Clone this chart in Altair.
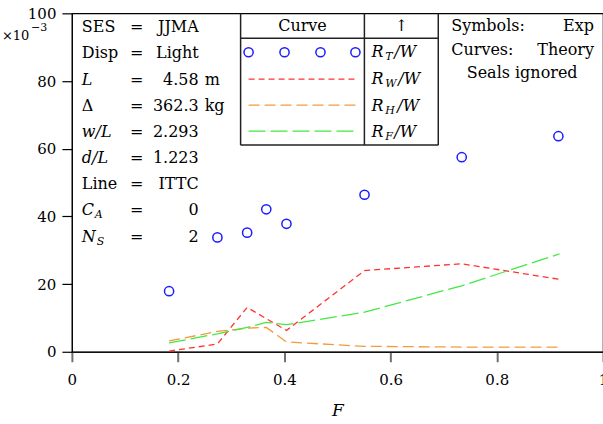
import altair as alt
import pandas as pd

# ---- data (y in units of 1e-3) ----
F_exp = [0.183, 0.274, 0.330, 0.366, 0.404, 0.551, 0.734, 0.916]
RT_W = [17.9, 33.8, 35.2, 42.1, 37.8, 46.4, 57.5, 63.7]

F_w = [0.183, 0.274, 0.330, 0.404, 0.551, 0.734, 0.918]
RW_W = [0.2, 2.3, 13.1, 6.3, 24.0, 26.0, 21.4]

F_th = [0.183, 0.274, 0.330, 0.366, 0.404, 0.551, 0.734, 0.918]
RH_W = [3.2, 6.0, 7.0, 7.2, 2.9, 1.6, 1.4, 1.4]
RF_W = [2.6, 5.3, 7.2, 8.7, 8.0, 11.7, 19.5, 28.9]

x_ticks = [0, 0.2, 0.4, 0.6, 0.8, 1.0]
y_ticks = [0, 20, 40, 60, 80, 100]

BLUE = "#1c1cff"
RED = "#ff3333"
ORANGE = "#f39a3e"
GREEN = "#44e844"
FONT = "DejaVu Serif"

xs = alt.Scale(domain=[0, 1], nice=False, zero=False)
ys = alt.Scale(domain=[0, 100], nice=False, zero=False)

xaxis = alt.Axis(values=x_ticks, title="F", grid=False, tickSize=10, tickWidth=2,
                 tickColor="#707070", domainColor="black", labelPadding=11,
                 labelFlush=False, labelOverlap=False,
                 labelFont=FONT, labelFontSize=15, labelColor="black",
                 titleFont=FONT, titleFontStyle="italic", titleFontWeight="normal",
                 titleFontSize=17, titlePadding=15, titleColor="black",
                 labelExpr="datum.value == 0 ? '0' : datum.value == 1 ? '1' : format(datum.value, '.1f')")
yaxis = alt.Axis(values=y_ticks, title=None, grid=False, tickSize=10, tickWidth=1.2,
                 tickColor="black", domainColor="black", labelPadding=6,
                 labelFlush=False, labelOverlap=False,
                 labelFont=FONT, labelFontSize=15, labelColor="black")

exp_df = pd.DataFrame({"F": F_exp, "R": RT_W})
w_df = pd.DataFrame({"F": F_w, "R": RW_W})
h_df = pd.DataFrame({"F": F_th, "R": RH_W})
f_df = pd.DataFrame({"F": F_th, "R": RF_W})

points = alt.Chart(exp_df).mark_point(shape="circle", filled=False, size=85,
                                      strokeWidth=1.5, color=BLUE, opacity=1).encode(
    x=alt.X("F:Q", scale=xs, axis=xaxis),
    y=alt.Y("R:Q", scale=ys, axis=yaxis),
)

def curve(df, color, dash):
    return alt.Chart(df).mark_line(color=color, strokeDash=dash, strokeWidth=1.3).encode(
        x=alt.X("F:Q", scale=xs, axis=xaxis),
        y=alt.Y("R:Q", scale=ys, axis=yaxis),
    )

lw = curve(w_df, RED, [6, 4])
lh = curve(h_df, ORANGE, [11, 5])
lf = curve(f_df, GREEN, [17, 5])

# ---- annotation helpers (pixel positions relative to plot area) ----
OX, OY = 72, 13  # plot origin in page pixels

def px(v):
    return v - OX

def py(v):
    return v - OY

def text_layer(rows, align="left", style="normal", size=16, color="black"):
    df = pd.DataFrame(rows, columns=["x", "y", "t"])
    df["x"] = df["x"].map(px)
    df["y"] = df["y"].map(py)
    return alt.Chart(df).mark_text(align=align, baseline="middle", font=FONT,
                                   fontSize=size, fontStyle=style, color=color).encode(
        x=alt.X("x:Q", scale=None, axis=None),
        y=alt.Y("y:Q", scale=None, axis=None),
        text="t:N",
    )

rows_y = [27, 53, 80, 106, 132, 158, 184, 210, 237]
LX, EQX, VX, UX = 82, 137, 199, 205

upright_labels = text_layer([
    (LX, rows_y[0], "SES"), (LX, rows_y[1], "Disp"), (LX, rows_y[3], "Δ"),
    (LX, rows_y[6], "Line"), (UX, rows_y[2], "m"), (UX, rows_y[3], "kg"),
    (452, 26, "Symbols:"), (452, 50, "Curves:"),
])
italic_labels = text_layer([
    (LX, rows_y[2], "L"), (LX, rows_y[4], "w/L"), (LX, rows_y[5], "d/L"),
    (LX, rows_y[7], "C"), (LX, rows_y[8], "N"),
    (372, 52, "R"), (395, 52, "/W"),
    (372, 79, "R"), (399, 79, "/W"),
    (372, 106, "R"), (398, 106, "/W"),
    (372, 132, "R"), (395, 132, "/W"),
], style="italic")
subs = text_layer([
    (95, rows_y[7] + 5, "A"), (97, rows_y[8] + 5, "S"),
    (386, 57, "T"), (386, 84, "W"), (386, 111, "H"), (386, 137, "F"),
], style="italic", size=11)
centered = text_layer(
    [(EQX, y, "=") for y in rows_y] + [(303, 26, "Curve"), (402, 26, "↑"), (523, 73, "Seals ignored")],
    align="center")
values = text_layer([
    (VX, rows_y[0], "JJMA"), (VX, rows_y[1], "Light"), (VX, rows_y[2], "4.58"),
    (VX, rows_y[3], "362.3"), (VX, rows_y[4], "2.293"), (VX, rows_y[5], "1.223"),
    (VX, rows_y[6], "ITTC"), (VX, rows_y[7], "0"), (VX, rows_y[8], "2"),
    (595, 26, "Exp"), (595, 50, "Theory"),
], align="right")
mult = text_layer([(2, 36, "×10")], size=13)
mult_sup = text_layer([(31, 28, "−3")], size=11)

# legend box
seg = pd.DataFrame({
    "x": [241, 439, 241, 241, 365],
    "y": [13, 13, 145, 38, 13],
    "x2": [241, 439, 439, 439, 365],
    "y2": [145, 145, 145, 38, 145],
})
seg["x"] = seg["x"].map(px); seg["x2"] = seg["x2"].map(px)
seg["y"] = seg["y"].map(py); seg["y2"] = seg["y2"].map(py)
box = alt.Chart(seg).mark_rule(color="#222222", strokeWidth=1.5).encode(
    x=alt.X("x:Q", scale=None, axis=None), x2="x2:Q",
    y=alt.Y("y:Q", scale=None, axis=None), y2="y2:Q",
)

leg_pts = pd.DataFrame({"x": [px(v) for v in [249, 285, 321, 356]], "y": [py(52)] * 4})
leg_circles = alt.Chart(leg_pts).mark_point(shape="circle", filled=False, size=85,
                                            strokeWidth=1.5, color=BLUE, opacity=1).encode(
    x=alt.X("x:Q", scale=None, axis=None), y=alt.Y("y:Q", scale=None, axis=None))

def leg_line(yv, color, dash):
    d = pd.DataFrame({"x": [px(249)], "x2": [px(356)], "y": [py(yv)]})
    return alt.Chart(d).mark_rule(color=color, strokeDash=dash, strokeWidth=1.3).encode(
        x=alt.X("x:Q", scale=None, axis=None), x2="x2:Q",
        y=alt.Y("y:Q", scale=None, axis=None))

chart = alt.layer(
    lw, lh, lf, points,
    box, leg_circles,
    leg_line(79, RED, [6, 4]), leg_line(105, ORANGE, [11, 5]), leg_line(131, GREEN, [17, 5]),
    upright_labels, italic_labels, subs, centered, values, mult, mult_sup,
).properties(
    width=532, height=339,
    autosize=alt.AutoSizeParams(type="none"),
    padding={"left": 72, "top": 13, "right": 0, "bottom": 72},
    background="white",
).configure_view(stroke="black", strokeWidth=1.2)

chart.save("out.html", embed_options={"renderer": "svg", "actions": False})
